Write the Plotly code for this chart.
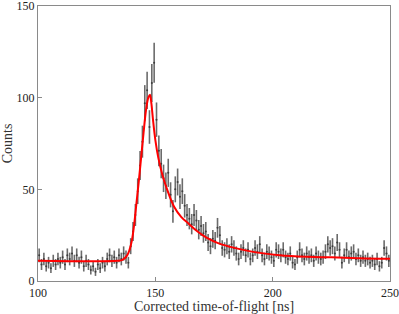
import numpy as np
import plotly.graph_objects as go

# Histogram bin centres [ns] and counts
tof = [100.5 + i for i in range(150)]
counts = [
    14, 9, 12, 8, 10, 7, 11, 9, 12, 10,
    13, 9, 14, 12, 15, 11, 14, 10, 13, 8,
    11, 9, 6, 8, 5, 9, 7, 10, 8, 12,
    14, 11, 13, 10, 14, 12, 15, 13, 10, 19,
    27, 36, 49, 63, 76, 97, 104, 84, 108, 119,
    88, 71, 64, 56, 52, 59, 47, 38, 50, 54,
    46, 49, 41, 36, 34, 31, 36, 33, 28, 30,
    26, 27, 21, 19, 23, 22, 29, 25, 18, 17,
    19, 16, 20, 18, 15, 12, 16, 18, 14, 17,
    12, 14, 18, 16, 20, 14, 12, 16, 15, 13,
    11, 17, 16, 14, 17, 13, 12, 15, 10, 9,
    13, 17, 14, 12, 15, 13, 14, 11, 15, 13,
    12, 13, 16, 20, 18, 19, 15, 21, 17, 10,
    14, 17, 13, 15, 16, 12, 14, 11, 13, 11,
    12, 10, 11, 9, 12, 8, 10, 18, 15, 11,
]
errors = [float(np.sqrt(c)) for c in counts]

# Fitted curve
fit_x = [100, 134, 136, 138, 139, 140, 141, 142, 143, 144, 145, 146, 147, 147.7,
         148.3, 149, 150, 151.3, 153, 155, 158, 161, 164, 168, 172, 177, 182,
         190, 203, 215, 225, 237, 250]
fit_y = [11, 11, 11.5, 14, 17, 22, 31, 43, 55, 68, 81, 93, 100, 101.6,
         97, 88, 77, 67, 58, 50, 40.5, 35, 31.5, 27, 23.5, 20.5, 18.6,
         16.3, 14.1, 13.2, 12.9, 12.4, 12.1]

x_ticks = [100, 150, 200, 250]
y_ticks = [0, 50, 100, 150]

font_family = "Liberation Serif"

fig = go.Figure()
fig.add_trace(go.Scatter(
    x=tof, y=counts, mode="markers",
    marker=dict(size=2, color="rgb(60,60,60)"),
    error_y=dict(type="data", array=errors, visible=True,
                 color="rgba(70,70,70,0.8)", thickness=1.6, width=0),
    showlegend=False,
))
fig.add_trace(go.Scatter(
    x=fit_x, y=fit_y, mode="lines", line=dict(color="#ff0000", width=2, shape="spline"),
    showlegend=False,
))

axis_common = dict(
    showline=True, mirror=True, linecolor="#8a8a8a", linewidth=1,
    ticks="inside", ticklen=4, tickcolor="#8a8a8a", tickwidth=1,
    showgrid=False, zeroline=False, ticklabeloverflow="allow",
    tickfont=dict(family=font_family, size=12, color="#222"),
)
fig.update_xaxes(range=[100, 250.001], tickvals=x_ticks, ticklabelstandoff=1,
                 title=dict(text="Corrected time-of-flight [ns]",
                            font=dict(family=font_family, size=14, color="#333"), standoff=4),
                 **axis_common)
fig.update_yaxes(range=[0, 150.001], tickvals=y_ticks,
                 title=dict(text="Counts",
                            font=dict(family=font_family, size=14, color="#333"), standoff=3),
                 **axis_common)
fig.update_layout(
    width=399, height=314,
    margin=dict(l=38, r=9, t=6, b=33, autoexpand=False),
    paper_bgcolor="white", plot_bgcolor="white",
)
fig.write_html("out.html", config={"displayModeBar": False},
               post_script="document.body.style.margin='0';document.body.style.overflow='hidden';")
